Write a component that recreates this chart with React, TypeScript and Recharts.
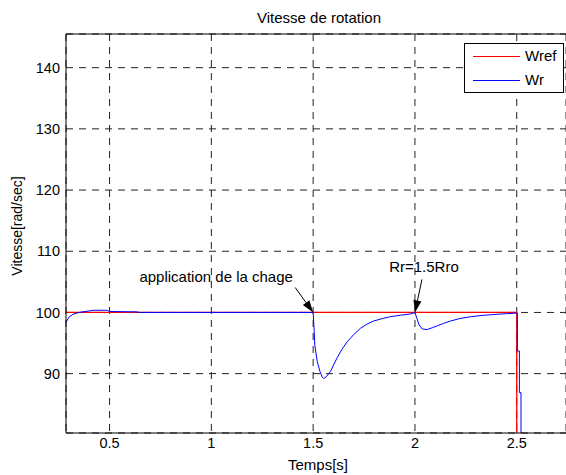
import {
  LineChart,
  Line,
  XAxis,
  YAxis,
  CartesianGrid,
  ReferenceDot,
  Legend,
  Label,
} from "recharts";

// time axis (s) and speed axis (rad/sec)
const xTicks = [0.5, 1, 1.5, 2, 2.5];
const yTicks = [90, 100, 110, 120, 130, 140];
const xDomain = [0.286, 2.742];
const yDomain = [80.3, 145.5];

const wrefData = [
  { t: 0.286, v: 100 },
  { t: 2.5, v: 100 },
  { t: 2.5, v: 60 },
];

const wrData = [
  { t: 0.286, v: 98.4 },
  { t: 0.3, v: 99.2 },
  { t: 0.32, v: 99.7 },
  { t: 0.35, v: 100.0 },
  { t: 0.4, v: 100.25 },
  { t: 0.42, v: 100.35 },
  { t: 0.49, v: 100.35 },
  { t: 0.5, v: 100.15 },
  { t: 0.63, v: 100.1 },
  { t: 0.65, v: 100.0 },
  { t: 1.5, v: 100.0 },
  { t: 1.505, v: 97.0 },
  { t: 1.508, v: 94.7 },
  { t: 1.52, v: 92.0 },
  { t: 1.533, v: 90.4 },
  { t: 1.545, v: 89.4 },
  { t: 1.552, v: 89.2 },
  { t: 1.565, v: 89.5 },
  { t: 1.586, v: 90.4 },
  { t: 1.6, v: 91.4 },
  { t: 1.618, v: 92.6 },
  { t: 1.64, v: 93.9 },
  { t: 1.667, v: 95.2 },
  { t: 1.7, v: 96.4 },
  { t: 1.732, v: 97.4 },
  { t: 1.765, v: 98.1 },
  { t: 1.797, v: 98.6 },
  { t: 1.84, v: 99.0 },
  { t: 1.879, v: 99.3 },
  { t: 1.93, v: 99.55 },
  { t: 1.978, v: 99.75 },
  { t: 2.0, v: 100.0 },
  { t: 2.01, v: 99.0 },
  { t: 2.02, v: 98.0 },
  { t: 2.036, v: 97.3 },
  { t: 2.06, v: 97.2 },
  { t: 2.085, v: 97.5 },
  { t: 2.109, v: 97.8 },
  { t: 2.14, v: 98.2 },
  { t: 2.175, v: 98.6 },
  { t: 2.22, v: 99.0 },
  { t: 2.273, v: 99.3 },
  { t: 2.34, v: 99.55 },
  { t: 2.403, v: 99.7 },
  { t: 2.45, v: 99.8 },
  { t: 2.503, v: 99.9 },
  { t: 2.503, v: 93.7 },
  { t: 2.513, v: 93.7 },
  { t: 2.513, v: 86.9 },
  { t: 2.521, v: 86.9 },
  { t: 2.521, v: 60 },
];

const annotations = [
  { t: 1.5, v: 100, text: "application de la chage", tail: [-18, -25], label: [-97, -30] },
  { t: 2.0, v: 100, text: "Rr=1.5Rro", tail: [7, -33], label: [9, -40] },
];

const font = "'Liberation Sans', Arial, Helvetica, sans-serif";

function Arrow({ cx, cy, tail, label, text }: any) {
  const tx = cx + tail[0];
  const ty = cy + tail[1];
  const dx = cx - tx;
  const dy = cy - ty;
  const len = Math.sqrt(dx * dx + dy * dy);
  const ux = dx / len;
  const uy = dy / len;
  const hl = 12;
  const hw = 4;
  const bx = cx - ux * hl;
  const by = cy - uy * hl;
  const head = `${cx},${cy} ${bx - uy * hw},${by + ux * hw} ${bx + uy * hw},${by - ux * hw}`;
  return (
    <g>
      <line x1={tx} y1={ty} x2={bx} y2={by} stroke="#000" strokeWidth={1} />
      <polygon points={head} fill="#000" />
      <text
        x={cx + label[0]}
        y={cy + label[1]}
        textAnchor="middle"
        fontFamily={font}
        fontSize={15}
        fill="#000"
      >
        {text}
      </text>
    </g>
  );
}

const legendItems = [
  { name: "Wref", color: "#ff0000" },
  { name: "Wr", color: "#0000ff" },
];

function LegendBox() {
  return (
    <div
      style={{
        width: 98,
        height: 48,
        border: "1px solid #000",
        background: "#fff",
        fontFamily: font,
        fontSize: 15,
        color: "#000",
        boxSizing: "content-box",
      }}
    >
      {legendItems.map((it, i) => (
        <div
          key={it.name}
          style={{ position: "absolute", left: 1, top: 1 + i * 24, height: 24, display: "flex", alignItems: "center" }}
        >
          <div style={{ marginLeft: 8, width: 47, height: 1, background: it.color }} />
          <span style={{ marginLeft: 5, lineHeight: "24px" }}>{it.name}</span>
        </div>
      ))}
    </div>
  );
}

export default function App() {
  const tickStyle = { fontSize: 14.5, fill: "#000", fontFamily: font };
  return (
    <div style={{ position: "absolute", left: 0, top: 0, background: "#fff" }}>
      <LineChart
        width={566}
        height={475}
        margin={{ top: 0, right: 0, bottom: 0, left: 0 }}
      >
        <CartesianGrid stroke="#222" strokeDasharray="7 6" />
        <XAxis
          dataKey="t"
          type="number"
          domain={xDomain}
          ticks={xTicks}
          allowDataOverflow
          height={42}
          tickLine={false}
          tickSize={0}
          tickMargin={5}
          tick={tickStyle}
          axisLine={{ stroke: "#000" }}
        >
          <Label
            content={() => (
              <text x={318} y={470} textAnchor="middle" fontFamily={font} fontSize={15} fill="#000">
                Temps[s]
              </text>
            )}
          />
        </XAxis>
        <XAxis
          xAxisId="top"
          orientation="top"
          dataKey="t"
          type="number"
          domain={xDomain}
          ticks={xTicks}
          allowDataOverflow
          height={34}
          tick={false}
          tickLine={false}
          axisLine={{ stroke: "#000" }}
        >
          <Label
            content={() => (
              <text x={319} y={23} textAnchor="middle" fontFamily={font} fontSize={15} fill="#000">
                Vitesse de rotation
              </text>
            )}
          />
        </XAxis>
        <YAxis
          type="number"
          domain={yDomain}
          ticks={yTicks}
          allowDataOverflow
          width={66}
          tickLine={false}
          tickSize={0}
          tickMargin={6}
          tick={tickStyle}
          axisLine={{ stroke: "#000" }}
        >
          <Label
            content={() => (
              <text
                x={22}
                y={226}
                textAnchor="middle"
                transform="rotate(-90, 22, 226)"
                fontFamily={font}
                fontSize={14}
                fill="#000"
              >
                Vitesse[rad/sec]
              </text>
            )}
          />
        </YAxis>
        <Legend
          layout="horizontal"
          verticalAlign="middle"
          align="center"
          wrapperStyle={{ left: 464, top: 43, width: 100, height: 50 }}
          content={() => <LegendBox />}
        />
        <Line
          data={wrefData}
          dataKey="v"
          name="Wref"
          type="linear"
          stroke="#ff0000"
          strokeWidth={1.3}
          dot={false}
          isAnimationActive={false}
        />
        <Line
          data={wrData}
          dataKey="v"
          name="Wr"
          type="linear"
          stroke="#0000ff"
          strokeWidth={1}
          dot={false}
          isAnimationActive={false}
        />
        {annotations.map((a) => (
          <ReferenceDot
            key={a.text}
            x={a.t}
            y={a.v}
            r={0}
            shape={(p: any) => <Arrow cx={p.cx} cy={p.cy} tail={a.tail} label={a.label} text={a.text} />}
          />
        ))}
      </LineChart>
    </div>
  );
}
